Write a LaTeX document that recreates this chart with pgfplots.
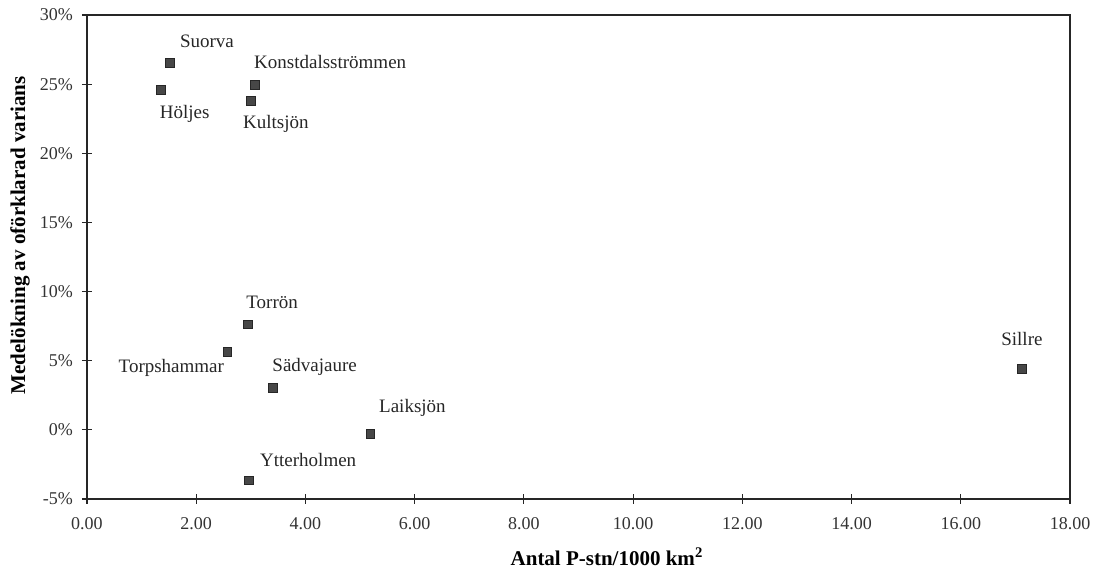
\documentclass[border=0pt]{standalone}
\usepackage{fontspec}
\setmainfont{Liberation Serif}
\usepackage{pgfplots}
\pgfplotsset{compat=1.18}
\begin{document}
\begin{tikzpicture}
\useasboundingbox (-43.5pt,-36.5pt) rectangle (506pt,249.5pt);
\begin{axis}[
  at={(0,0)}, anchor=south west,
  scale only axis, width=491.5pt, height=242pt,
  xmin=0, xmax=18, ymin=-5, ymax=30,
  xtick={0,2,...,18}, ytick={-5,0,...,30},
  xtick pos=bottom, ytick pos=left,
  tick align=center, major tick length=5pt,
  axis line style={black!85, line width=0.8pt},
  every tick/.style={black!85, line width=0.6pt},
  /pgf/number format/assume math mode=true,
  xticklabel={\pgfmathprintnumber[fixed,fixed zerofill,precision=2,assume math mode=true]{\tick}},
  xticklabel style={font=\fontsize{9}{11}\selectfont, text=black!80, yshift=-3pt},
  yticklabel={\pgfmathprintnumber[fixed,precision=0,assume math mode=true]{\tick}\%},
  yticklabel style={font=\fontsize{9}{11}\selectfont, text=black!80, xshift=-1pt},
  xlabel={Antal P-stn/1000 km\textsuperscript{2}},
  ylabel={Medelökning av oförklarad varians},
  xlabel style={font=\bfseries\fontsize{10.5}{12}\selectfont, at={(axis description cs:0.529,0)}, anchor=center, yshift=-29pt},
  ylabel style={font=\bfseries\fontsize{10.5}{12}\selectfont, at={(axis description cs:0,0.545)}, anchor=center, yshift=33.5pt},
  clip=false,
]
\addplot[only marks, mark=square*, mark size=2.2pt,
  mark options={fill=black!72, draw=black!85, line width=0.4pt},
  nodes near coords, point meta=explicit symbolic,
  visualization depends on={\thisrow{dx} \as \dx},
  visualization depends on={\thisrow{dy} \as \dy},
  every node near coord/.append style={anchor=center, xshift=\dx pt, yshift=\dy pt,
    font=\fontsize{9.5}{11}\selectfont, text=black!85, inner sep=0pt},
] table[meta=label] {
x     y      dx    dy    label
1.52  26.55  18.5  10.5  Suorva
3.08  24.94  37.5  11.5  Konstdalsströmmen
1.35  24.58  12    -12   Höljes
3.00  23.80  12.5  -11.5 Kultsjön
2.95  7.63   12    11    Torrön
2.57  5.61   -28   -8    Torpshammar
3.40  3.05   21    10.5  Sädvajaure
5.19  -0.32  21    13    Laiksjön
2.97  -3.65  29.5  10    Ytterholmen
17.12 4.38   0     15    Sillre
};
\end{axis}
\end{tikzpicture}
\end{document}
